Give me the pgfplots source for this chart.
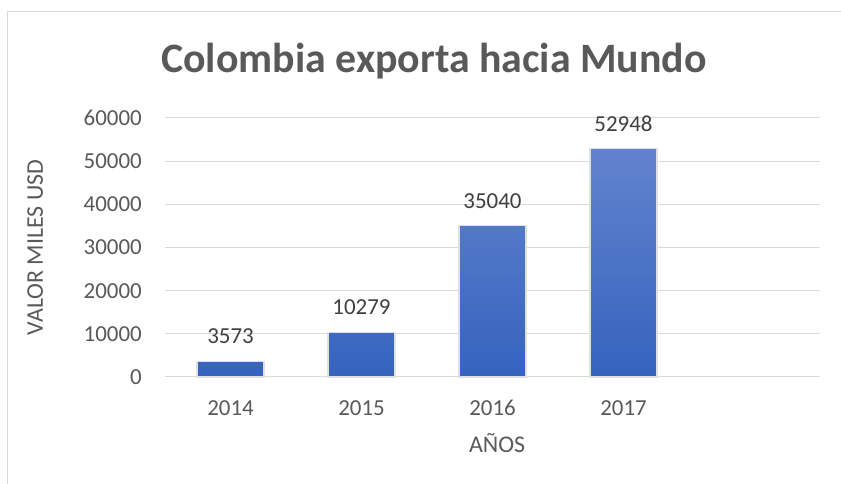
\documentclass[border=0pt]{standalone}
\usepackage{pgfplots}
\pgfplotsset{compat=1.18}
\usepackage{fontspec}
\setmainfont{Carlito}
\definecolor{txt}{HTML}{595959}
\definecolor{lbl}{HTML}{404040}
\definecolor{gridc}{HTML}{D9D9D9}
\definecolor{bartop}{HTML}{6283CE}
\definecolor{barbot}{HTML}{3563BE}
\begin{document}
\begin{tikzpicture}[x=1bp,y=1bp]
\useasboundingbox (0,0) rectangle (841,484);
\fill[white] (0,0) rectangle (841,484);
\draw[gridc, line width=1bp] (7.5,-20) -- (7.5,472.5) -- (860,472.5);
\node[anchor=base, text=txt, font=\fontsize{42}{42}\selectfont\bfseries] at (434,411) {Colombia exporta hacia Mundo};
\begin{axis}[
  at={(165bp,107bp)}, anchor=south west,
  scale only axis, width=655bp, height=259bp,
  xmin=-0.5, xmax=4.5, ymin=0, ymax=60000,
  ytick={0,10000,20000,30000,40000,50000,60000},
  xtick={0,1,2,3}, xticklabels={2014,2015,2016,2017},
  ymajorgrids, grid style={gridc, line width=1bp},
  axis line style={draw=none},
  major tick length=0pt,
  scaled y ticks=false,
  /pgf/number format/.cd, 1000 sep={}, assume math mode=true, /pgfplots/.cd,
  tick label style={text=txt, font=\fontsize{23}{23}\selectfont},
  yticklabel style={anchor=east, inner sep=0pt, xshift=-23bp},
  xticklabel style={anchor=center, inner sep=0pt, yshift=-31bp},
  ylabel={VALOR MILES USD}, xlabel={AÑOS},
  label style={text=txt, font=\fontsize{24}{24}\selectfont},
  every axis y label/.append style={at={(axis description cs:-0.198,0.5)}, anchor=center},
  every axis x label/.append style={at={(axis description cs:0.507,-0.2934)}, anchor=base},
  ybar, bar width=67bp,
  nodes near coords,
  nodes near coords style={anchor=center, inner sep=0pt, yshift=25bp, text=lbl, font=\fontsize{23}{23}\selectfont},
  clip=false,
]
\addplot[draw=black!12, line width=1.2bp, top color=bartop, bottom color=barbot] coordinates {(0,3573) (1,10279) (2,35040) (3,52948)};
\end{axis}
\end{tikzpicture}
\end{document}
